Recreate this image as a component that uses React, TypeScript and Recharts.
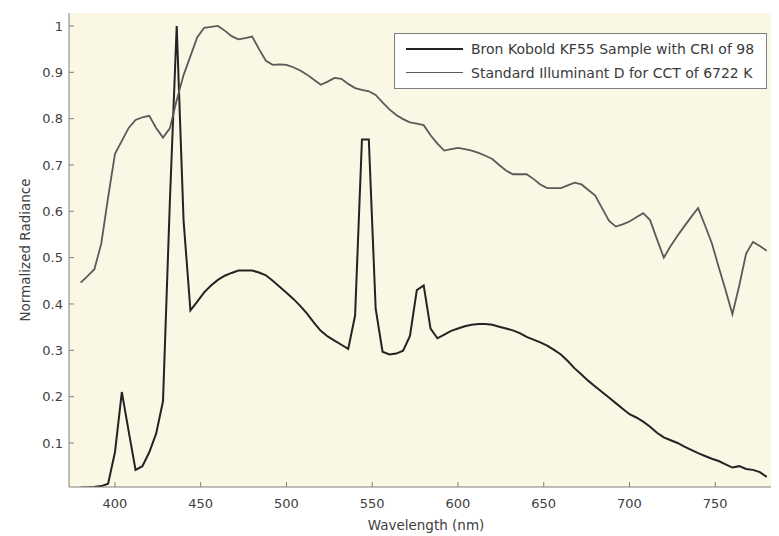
import React from 'react';
import { LineChart, Line, XAxis, YAxis, CartesianGrid, Legend } from 'recharts';

// wavelength samples (nm)
const wavelengths = [
  380, 384, 388, 392, 396, 400, 404, 408, 412, 416,
  420, 424, 428, 432, 436, 440, 444, 448, 452, 456,
  460, 464, 468, 472, 476, 480, 484, 488, 492, 496,
  500, 504, 508, 512, 516, 520, 524, 528, 532, 536,
  540, 544, 548, 552, 556, 560, 564, 568, 572, 576,
  580, 584, 588, 592, 596, 600, 604, 608, 612, 616,
  620, 624, 628, 632, 636, 640, 644, 648, 652, 656,
  660, 664, 668, 672, 676, 680, 684, 688, 692, 696,
  700, 704, 708, 712, 716, 720, 724, 728, 732, 736,
  740, 744, 748, 752, 756, 760, 764, 768, 772, 776,
  780,
];

// Bron Kobold KF55 sample, normalized
const kf55 = [
  0.004, 0.004, 0.005, 0.007, 0.012, 0.08, 0.21, 0.125, 0.042, 0.05,
  0.08, 0.12, 0.19, 0.62, 1.0, 0.58, 0.386, 0.405, 0.425, 0.44,
  0.452, 0.461, 0.467, 0.472, 0.472, 0.472, 0.468, 0.462, 0.45, 0.437,
  0.424, 0.411, 0.396, 0.379, 0.36, 0.342, 0.33, 0.321, 0.312, 0.303,
  0.375, 0.755, 0.755, 0.39, 0.297, 0.291, 0.293, 0.299, 0.331, 0.43,
  0.44, 0.347, 0.326, 0.334, 0.342, 0.347, 0.352, 0.355, 0.357, 0.357,
  0.355, 0.351, 0.347, 0.343, 0.337, 0.329, 0.323, 0.317, 0.31, 0.301,
  0.291, 0.277, 0.261, 0.248, 0.234, 0.222, 0.21, 0.198, 0.186, 0.174,
  0.162, 0.155, 0.146, 0.135, 0.122, 0.112, 0.106, 0.1, 0.092, 0.085,
  0.078, 0.072, 0.066, 0.061, 0.054, 0.047, 0.05, 0.044, 0.042, 0.037,
  0.027,
];

// standard illuminant D, CCT 6722 K, normalized
const illumD = [
  0.446, 0.46, 0.475, 0.53, 0.63, 0.724, 0.752, 0.78, 0.797, 0.803,
  0.806, 0.78, 0.759, 0.779, 0.84, 0.894, 0.935, 0.976, 0.996, 0.998,
  1.0, 0.99, 0.978, 0.971, 0.974, 0.977, 0.95, 0.925, 0.916, 0.917,
  0.916, 0.911, 0.904, 0.895, 0.884, 0.873, 0.88, 0.888, 0.886, 0.875,
  0.866, 0.862, 0.859, 0.851, 0.835, 0.82, 0.808, 0.799, 0.792, 0.789,
  0.786, 0.764, 0.746, 0.731, 0.734, 0.737, 0.734, 0.731, 0.726, 0.72,
  0.713, 0.7, 0.688, 0.68, 0.68, 0.68, 0.67, 0.658, 0.65, 0.65,
  0.65, 0.656, 0.662, 0.658, 0.646, 0.634, 0.607, 0.58, 0.567, 0.572,
  0.578, 0.587, 0.596, 0.581, 0.54, 0.5, 0.525, 0.547, 0.568, 0.588,
  0.607, 0.57, 0.531, 0.48, 0.43, 0.378, 0.44, 0.509, 0.534, 0.525,
  0.515,
];

const xTicks = [400, 450, 500, 550, 600, 650, 700, 750];
const yTicks = [0.1, 0.2, 0.3, 0.4, 0.5, 0.6, 0.7, 0.8, 0.9, 1];

const seriesInfo = [
  { key: 'kf', name: 'Bron Kobold KF55 Sample with CRI of 98', color: '#232323', width: 2 },
  { key: 'd', name: 'Standard Illuminant D for CCT of 6722 K', color: '#5a5a5a', width: 1.8 },
];

const data = wavelengths.map((nm, i) => ({ nm, kf: kf55[i], d: illumD[i] }));

const X_DOMAIN: [number, number] = [373.2, 786];
const Y_DOMAIN: [number, number] = [0.005, 1.028];
const FONT = '"DejaVu Sans", sans-serif';
const TEXT = '#404040';
const FRAME = '#7f7f7f';

const BottomTick = (props: any) => {
  const { x, y, payload } = props;
  return (
    <g>
      <line x1={x} x2={x} y1={y} y2={y - 5} stroke={FRAME} />
      <text x={x} y={y + 21} textAnchor="middle" fontFamily={FONT} fontSize={13} fill={TEXT}>
        {payload.value}
      </text>
    </g>
  );
};

const TopTick = (props: any) => {
  const { x, y } = props;
  return <line x1={x} x2={x} y1={y} y2={y + 5} stroke={FRAME} />;
};

const LeftTick = (props: any) => {
  const { x, y, payload } = props;
  return (
    <g>
      <line x1={x} x2={x + 5} y1={y} y2={y} stroke={FRAME} />
      <text x={x - 6} y={y + 4.7} textAnchor="end" fontFamily={FONT} fontSize={13} fill={TEXT}>
        {payload.value}
      </text>
    </g>
  );
};

const RightTick = (props: any) => {
  const { x, y } = props;
  return <line x1={x} x2={x - 5} y1={y} y2={y} stroke={FRAME} />;
};

const LegendBox = () => (
  <div
    style={{
      width: 373,
      height: 56,
      boxSizing: 'border-box',
      background: '#ffffff',
      border: `1px solid ${FRAME}`,
      position: 'relative',
      fontFamily: FONT,
      fontSize: 14,
      color: '#3a3a3a',
    }}
  >
    {seriesInfo.map((s, i) => {
      const rowY = i === 0 ? 15 : 38.5;
      return (
        <React.Fragment key={s.key}>
          <div
            style={{
              position: 'absolute',
              left: 11,
              top: rowY - s.width / 2,
              width: 57,
              height: s.width,
              background: s.color,
            }}
          />
          <div style={{ position: 'absolute', left: 76, top: rowY - 9, lineHeight: '18px', whiteSpace: 'nowrap' }}>
            {s.name}
          </div>
        </React.Fragment>
      );
    })}
  </div>
);

export default function App() {
  return (
    <LineChart width={771} height={528} data={data} margin={{ top: 5, right: 2, left: 0, bottom: 0 }}>
      <CartesianGrid horizontal={false} vertical={false} fill="#faf7e5" stroke="none" />
      <XAxis
        dataKey="nm"
        type="number"
        domain={X_DOMAIN}
        allowDataOverflow
        ticks={xTicks}
        interval={0}
        height={49}
        tickSize={0}
        tickMargin={0}
        tickLine={false}
        axisLine={{ stroke: FRAME }}
        tick={BottomTick}
        label={{
          content: () => (
            <text x={418} y={522} textAnchor="middle" fontFamily={FONT} fontSize={13.5} fill={TEXT}>
              Wavelength (nm)
            </text>
          ),
        }}
      />
      <XAxis
        xAxisId="top"
        orientation="top"
        dataKey="nm"
        type="number"
        domain={X_DOMAIN}
        allowDataOverflow
        ticks={xTicks}
        interval={0}
        height={0}
        tickSize={0}
        tickMargin={0}
        tickLine={false}
        axisLine={{ stroke: FRAME }}
        tick={TopTick}
      />
      <YAxis
        type="number"
        domain={Y_DOMAIN}
        allowDataOverflow
        ticks={yTicks}
        interval={0}
        width={61}
        tickSize={0}
        tickMargin={0}
        tickLine={false}
        axisLine={{ stroke: FRAME }}
        tick={LeftTick}
        label={{
          content: () => (
            <text
              x={22}
              y={242}
              transform="rotate(-90 22 242)"
              textAnchor="middle"
              fontFamily={FONT}
              fontSize={13.5}
              fill={TEXT}
            >
              Normalized Radiance
            </text>
          ),
        }}
      />
      <YAxis
        yAxisId="right"
        orientation="right"
        type="number"
        domain={Y_DOMAIN}
        allowDataOverflow
        ticks={yTicks}
        interval={0}
        width={0}
        tickSize={0}
        tickMargin={0}
        tickLine={false}
        axisLine={{ stroke: FRAME }}
        tick={RightTick}
      />
      <Legend
        layout="vertical"
        align="center"
        verticalAlign="middle"
        content={LegendBox}
        wrapperStyle={{ left: 386, top: 25, width: 373, height: 56 }}
      />
      {seriesInfo.map((s) => (
        <Line
          key={s.key}
          type="linear"
          dataKey={s.key}
          name={s.name}
          stroke={s.color}
          strokeWidth={s.width}
          dot={false}
          activeDot={false}
          isAnimationActive={false}
        />
      ))}
    </LineChart>
  );
}
